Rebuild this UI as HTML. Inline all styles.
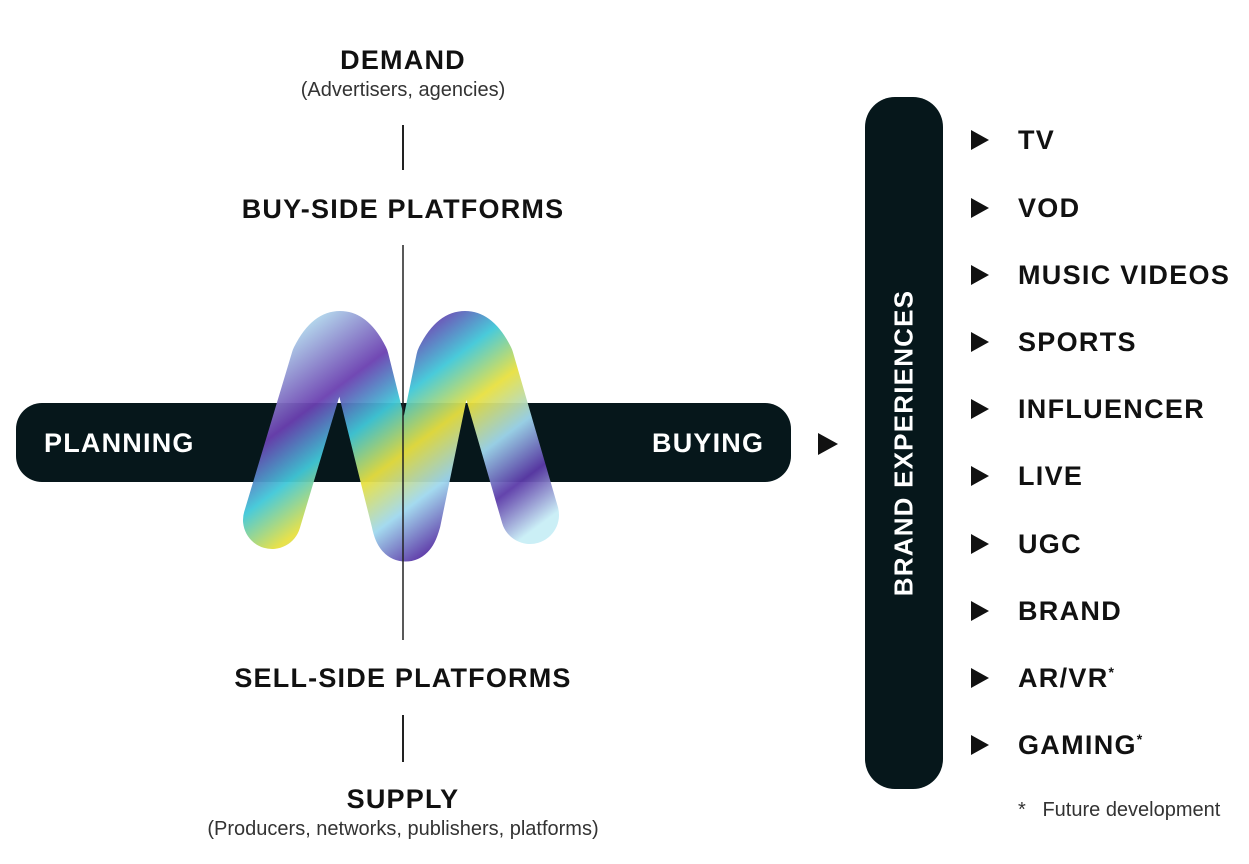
<!DOCTYPE html>
<html><head><meta charset="utf-8"><style>
body{margin:0;width:1249px;height:864px;background:#fff;position:relative;overflow:hidden;font-family:"Liberation Sans",sans-serif;color:#111}
.t{position:absolute;font-weight:bold;letter-spacing:1.2px;white-space:nowrap}
.c{text-align:center;width:600px;left:103px}
.s{position:absolute;font-size:20px;color:#333;text-align:center;width:600px;left:103px;white-space:nowrap}
.l{position:absolute;left:402px;width:1.5px;background:#222}
.tri{position:absolute;left:971px;width:0;height:0;border-left:18px solid #111;border-top:10px solid transparent;border-bottom:10px solid transparent}
.it{position:absolute;left:1018px;font-size:27px;font-weight:bold;letter-spacing:1.3px;line-height:30px}
.sp{font-size:14px;position:relative;top:-10px;vertical-align:baseline;line-height:0}
</style></head><body>
<div class="t c" style="top:45px;font-size:27px">DEMAND</div>
<div class="s" style="top:79px">(Advertisers, agencies)</div>
<div class="l" style="top:125px;height:45px"></div>
<div class="t c" style="top:194px;font-size:27px">BUY-SIDE PLATFORMS</div>
<div style="position:absolute;left:16px;top:403px;width:775px;height:79px;border-radius:26px;background:#06171b"></div>
<div class="t" style="left:44px;top:428px;font-size:27px;color:#fff">PLANNING</div>
<div class="t" style="left:652px;top:428px;font-size:27px;color:#fff">BUYING</div>
<svg style="position:absolute;left:0;top:0" width="1249" height="864">
<defs><linearGradient id="g" x1="0" y1="0" x2="1" y2="1">
<stop offset="0" stop-color="#b8e6f2"/><stop offset=".25" stop-color="#6a3fb0"/><stop offset=".4" stop-color="#40c8d8"/><stop offset=".55" stop-color="#e8e040"/><stop offset=".7" stop-color="#9fd8ee"/><stop offset=".85" stop-color="#5b3aa8"/><stop offset="1" stop-color="#c8eef6"/></linearGradient></defs>
<path d="M272 520 L320 360 Q340 320 360 360 L400 520 Q405 545 412 520 L445 360 Q465 320 485 360 L530 515" fill="none" stroke="url(#g)" stroke-width="58" stroke-linecap="round" stroke-linejoin="round" opacity=".95"/>
<line x1="403" y1="245" x2="403" y2="640" stroke="#222" stroke-width="1.5"/>
</svg>
<div style="position:absolute;left:818px;top:433px;border-left:20px solid #111;border-top:11px solid transparent;border-bottom:11px solid transparent"></div>
<div class="t c" style="top:663px;font-size:27px">SELL-SIDE PLATFORMS</div>
<div class="l" style="top:715px;height:47px"></div>
<div class="t c" style="top:784px;font-size:27px">SUPPLY</div>
<div class="s" style="top:818px">(Producers, networks, publishers, platforms)</div>
<div style="position:absolute;left:865px;top:97px;width:78px;height:692px;border-radius:30px;background:#06171b"></div>
<div class="t" style="left:904px;top:443px;font-size:26px;color:#fff;transform:translate(-50%,-50%) rotate(-90deg)">BRAND EXPERIENCES</div>
<div class="tri" style="top:130px"></div><div class="it" style="top:125px">TV</div>
<div class="tri" style="top:198px"></div><div class="it" style="top:193px">VOD</div>
<div class="tri" style="top:265px"></div><div class="it" style="top:260px">MUSIC VIDEOS</div>
<div class="tri" style="top:332px"></div><div class="it" style="top:327px">SPORTS</div>
<div class="tri" style="top:399px"></div><div class="it" style="top:394px">INFLUENCER</div>
<div class="tri" style="top:466px"></div><div class="it" style="top:461px">LIVE</div>
<div class="tri" style="top:534px"></div><div class="it" style="top:529px">UGC</div>
<div class="tri" style="top:601px"></div><div class="it" style="top:596px">BRAND</div>
<div class="tri" style="top:668px"></div><div class="it" style="top:663px">AR/VR<span class="sp">*</span></div>
<div class="tri" style="top:735px"></div><div class="it" style="top:730px">GAMING<span class="sp">*</span></div>
<div style="position:absolute;left:1018px;top:799px;font-size:20px;color:#333;white-space:nowrap">*&nbsp;&nbsp;&nbsp;Future development</div>
</body></html>
